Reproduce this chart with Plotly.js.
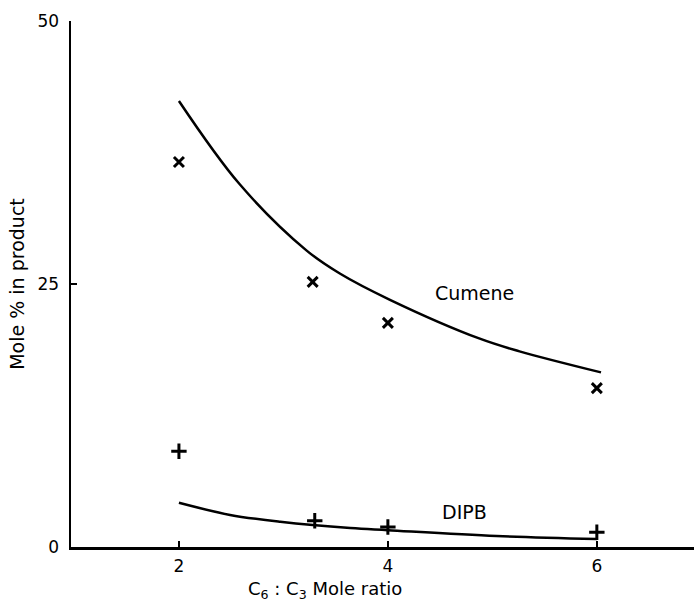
<!DOCTYPE html>
<html>
<head>
<meta charset="utf-8">
<script src="https://cdn.plot.ly/plotly-3.0.1.min.js"></script>
<style>html,body{margin:0;padding:0;background:#fff;}#chart{width:694px;height:603px;}</style>
</head>
<body>
<div id="chart"></div>
<script>
// Measured data points
const cumeneX = [2, 3.28, 4, 6];
const cumeneY = [36.6, 25.2, 21.3, 15.1];
const dipbX = [2, 3.3, 4, 6];
const dipbY = [9.1, 2.5, 1.9, 1.4];

// Fitted curves as drawn in the figure
const cumeneCurveX = [2, 2.58, 3.22, 3.54, 4.02, 4.88, 5.26, 6.04];
const cumeneCurveY = [42.4, 34.5, 28.2, 26.0, 23.5, 19.8, 18.6, 16.6];
const dipbCurveX = [2, 2.49, 2.97, 3.64, 4, 5.04, 6];
const dipbCurveY = [4.2, 3.05, 2.4, 1.8, 1.6, 1.05, 0.76];

// Axis ticks
const xTicks = [2, 4, 6];
const yTicks = [0, 25, 50];

const tickFont = {family: 'DejaVu Sans, sans-serif', size: 17, color: '#000'};
const textFont = {family: 'DejaVu Sans, sans-serif', size: 19, color: '#000'};

const traces = [
  {x: cumeneCurveX, y: cumeneCurveY, mode: 'lines', line: {color: '#000', width: 2.5, shape: 'spline', smoothing: 1}, hoverinfo: 'skip'},
  {x: dipbCurveX, y: dipbCurveY, mode: 'lines', line: {color: '#000', width: 2.5, shape: 'spline', smoothing: 1}, hoverinfo: 'skip'},
  {x: cumeneX, y: cumeneY, mode: 'markers', marker: {symbol: 'x-thin', size: 10, line: {color: '#000', width: 3}}},
  {x: dipbX, y: dipbY, mode: 'markers', marker: {symbol: 'cross-thin', size: 11, line: {color: '#000', width: 3}}}
];

const layout = {
  width: 694, height: 603,
  margin: {l: 71, r: 0, t: 21, b: 56},
  showlegend: false,
  paper_bgcolor: '#fff', plot_bgcolor: '#fff',
  font: tickFont,
  xaxis: {
    range: [0.967, 6.93], tickvals: xTicks, ticktext: xTicks.map(String),
    showgrid: false, zeroline: false, showline: true, linecolor: '#000', linewidth: 2.5,
    ticks: 'inside', ticklen: 6, tickwidth: 2.5, tickcolor: '#000',
    tickfont: tickFont, ticklabelstandoff: 2
  },
  yaxis: {
    range: [0, 50], tickvals: yTicks, ticktext: yTicks.map(String),
    showgrid: false, zeroline: false, showline: true, linecolor: '#000', linewidth: 2.5,
    ticks: 'inside', ticklen: 6, tickwidth: 2.5, tickcolor: '#000',
    tickfont: tickFont, ticklabelstandoff: 6,
    title: {text: 'Mole % in product', font: {family: 'DejaVu Sans, sans-serif', size: 19, color: '#000'}, standoff: 8}
  },
  annotations: [
    {x: 4.83, y: 24.1, text: 'Cumene', showarrow: false, font: textFont},
    {x: 4.73, y: 3.3, text: 'DIPB', showarrow: false, font: textFont},
    {x: 3.4, xref: 'x', y: -0.082, yref: 'paper', yanchor: 'middle', text: 'C<sub>6</sub> : C<sub>3</sub> Mole ratio', showarrow: false, font: {family: 'DejaVu Sans, sans-serif', size: 18, color: '#000'}}
  ]
};

Plotly.newPlot('chart', traces, layout, {displayModeBar: false, staticPlot: true});
</script>
</body>
</html>
